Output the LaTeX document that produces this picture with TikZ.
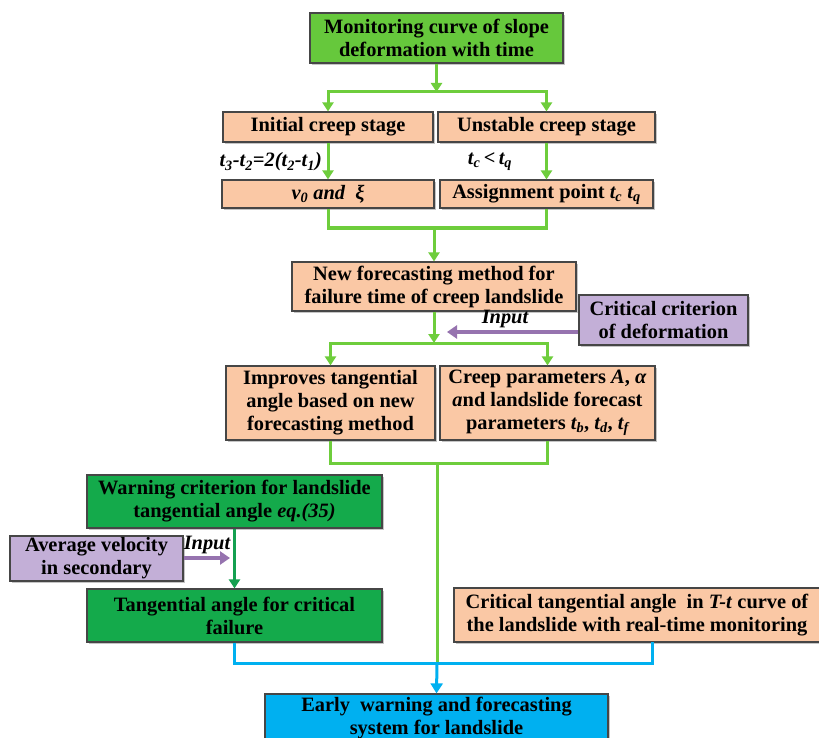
\documentclass[tikz,border=0pt]{standalone}
\usepackage{fontspec}
\setmainfont{Liberation Serif}
\usetikzlibrary{arrows.meta,shadows}
\definecolor{topgreen}{RGB}{102,200,60}
\definecolor{argreen}{RGB}{110,205,60}
\definecolor{peach}{RGB}{250,200,165}
\definecolor{lav}{RGB}{195,175,215}
\definecolor{lavarrow}{RGB}{150,115,175}
\definecolor{dkgreen}{RGB}{20,170,75}
\definecolor{dkgarrow}{RGB}{20,160,80}
\definecolor{skyblue}{RGB}{0,176,240}
\definecolor{edge}{RGB}{70,70,70}
\tikzset{
  box/.style={draw=edge, line width=1.2pt, inner sep=0pt, align=center,
    font=\fontsize{20.4}{23}\selectfont\bfseries,
    drop shadow={shadow xshift=2pt, shadow yshift=-2pt, fill=black!45, opacity=.5}},
  topbox/.style={box, fill=topgreen},
  pbox/.style={box, fill=peach},
  lbox/.style={box, fill=lav},
  gbox/.style={box, fill=dkgreen},
  bbox/.style={box, fill=skyblue},
  gline/.style={draw=argreen, line width=3pt},
  garrow/.style={gline, -{Triangle[width=11pt,length=9pt]}},
  dgarrow/.style={draw=dkgarrow, line width=3pt, -{Triangle[width=11pt,length=9pt]}},
  larrow/.style={draw=lavarrow, line width=4pt, -{Triangle[width=13pt,length=10pt]}},
  bline/.style={draw=skyblue, line width=3pt},
  barrow/.style={bline, -{Triangle[width=12pt,length=10pt]}},
  lab/.style={font=\fontsize{20.4}{23}\selectfont\bfseries\itshape, inner sep=0pt}
}
\begin{document}
\begin{tikzpicture}[x=1pt,y=-1pt]
\useasboundingbox (0,0) rectangle (819,738);
\clip (0,0) rectangle (819,738);
\fill[white] (0,0) rectangle (819,738);

\node[topbox, minimum width=253, minimum height=50] (top) at (436.5,38)
  {Monitoring curve of slope\\deformation with time};
\node[pbox, minimum width=210, minimum height=30] (r1L) at (328,127) {Initial creep stage};
\node[pbox, minimum width=217, minimum height=30] (r1R) at (546.5,127) {Unstable creep stage};
\node[pbox, minimum width=212, minimum height=28] (r2L) at (328,194)
  {\itshape v\textsubscript{0} and \ ξ};
\node[pbox, minimum width=213, minimum height=28] (r2R) at (546.5,194)
  {Assignment point \textit{t\textsubscript{c} t\textsubscript{q}}};
\node[pbox, minimum width=284, minimum height=49] (fc) at (434,286.5)
  {New forecasting method for\\failure time of creep landslide};
\node[lbox, minimum width=169, minimum height=50] (crit) at (663.5,320)
  {Critical criterion\\of deformation};
\node[pbox, minimum width=209, minimum height=74] (r3L) at (330.5,403)
  {Improves tangential\\angle based on new\\forecasting method};
\node[pbox, minimum width=215, minimum height=74] (r3R) at (547.5,403)
  {Creep parameters \textit{A}, \textit{α}\\\textit{a}nd landslide forecast\\parameters \textit{t\textsubscript{b}}, \textit{t\textsubscript{d}}, \textit{t\textsubscript{f}}};
\node[gbox, minimum width=295, minimum height=53] (warn) at (234.5,501.5)
  {Warning criterion for landslide\\tangential angle \textit{eq.(35)}};
\node[lbox, minimum width=173, minimum height=45] (avg) at (96.5,558.5)
  {Average velocity\\in secondary};
\node[gbox, minimum width=295, minimum height=53] (tang) at (234.5,615.5)
  {Tangential angle for critical\\failure};
\node[pbox, minimum width=366, minimum height=54] (ctang) at (637,615)
  {Critical tangential angle \ in \textit{T-t} curve of\\the landslide with real-time monitoring};
\node[bbox, minimum width=343, minimum height=48] (early) at (436.5,718)
  {Early \ warning and forecasting\\system for landslide};

% labels
\node[lab, anchor=east] (l1) at (322,162)
  {t\textsubscript{3}-t\textsubscript{2}=2(t\textsubscript{2}-t\textsubscript{1})};
\node[lab] (l2) at (490,162) {t\textsubscript{c}\,<\,t\textsubscript{q}};
\node[lab] (in1) at (505,319) {Input};
\node[lab] (in2) at (207,545) {Input};

% junction coordinates
\coordinate (j1) at (436.5,92);
\coordinate (j2) at (434,228);
\coordinate (j3) at (434,343);
\coordinate (j4) at (437,463);
\coordinate (j5) at (437,663);
\coordinate (p1) at (447,332);
\coordinate (p2) at (230,558);
\coordinate (cb) at (652,642);

% green connectors
\draw[garrow] (top.south) -- (j1);
\draw[garrow] (j1) -| (r1L.north);
\draw[garrow] (j1) -| (r1R.north);
\draw[garrow] (r1L.south) -- (r2L.north);
\draw[garrow] (r1R.south) -- (r2R.north);
\draw[gline] (r2L.south) |- (j2) -| (r2R.south);
\draw[garrow] (j2) -- (fc.north);
\draw[garrow] (fc.south) -- (j3);
\draw[garrow] (j3) -| (r3L.north);
\draw[garrow] (j3) -| (r3R.north);
\draw[gline] (r3L.south) |- (j4) -| (r3R.south);
\draw[gline] (j4) -- (j5);
\draw[larrow] (crit.west |- p1) -- (p1);

% lower part
\draw[dgarrow] (warn.south) -- (tang.north);
\draw[larrow] (avg.east |- p2) -- (p2);
\draw[bline] (tang.south) |- (j5) -| (cb);
\draw[barrow] (j5) -- (early.north);
\end{tikzpicture}
\end{document}
